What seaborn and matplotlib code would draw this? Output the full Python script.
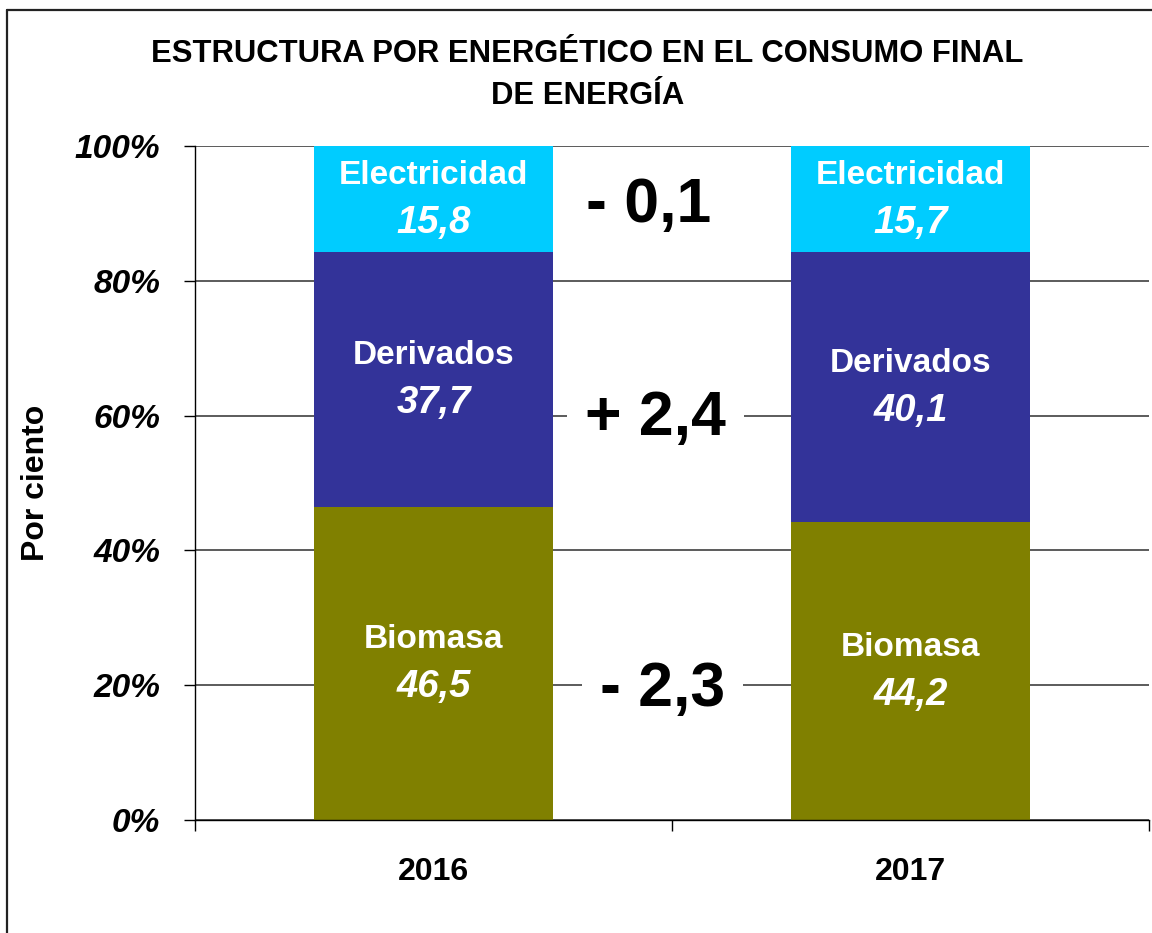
import numpy as np
import pandas as pd
import matplotlib
matplotlib.use('Agg')
import matplotlib.pyplot as plt
import seaborn as sns
from matplotlib.lines import Line2D

years = ['2016', '2017']
sources = ['Biomasa', 'Derivados', 'Electricidad']
biomasa = [46.5, 44.2]
derivados = [37.7, 40.1]
electricidad = [15.8, 15.7]
colors = {'Biomasa': '#808000', 'Derivados': '#333399', 'Electricidad': '#00CCFF'}

# change between years, with where the label sits (x in category units, y in %)
diff_labels = ['- 2,3', '+ 2,4', '- 0,1']
diff_x = [0.48, 0.465, 0.45]
diff_y = [19.3, 59.6, 91.2]

sns.set_theme(style='white')
plt.rcParams['font.family'] = ['Liberation Sans', 'DejaVu Sans']
plt.rcParams['text.color'] = 'black'
plt.rcParams['axes.labelcolor'] = 'black'
plt.rcParams['xtick.color'] = 'black'
plt.rcParams['ytick.color'] = 'black'

def fmt(v):
    return '{:.1f}'.format(v).replace('.', ',')

# long table with bottoms / tops for the stacks
rows = []
for i, y in enumerate(years):
    bottom = 0.0
    for s, vals in zip(sources, [biomasa, derivados, electricidad]):
        v = vals[i]
        rows.append({'year': y, 'source': s, 'value': v, 'bottom': bottom, 'top': bottom + v})
        bottom += v
df = pd.DataFrame(rows)

fig = plt.figure(figsize=(11.52, 9.33), dpi=100)
ax = fig.add_axes([195 / 1152, 1 - 820 / 933, 954 / 1152, 674 / 933])

# stacked bars: draw cumulative tops from tallest to shortest
for s in reversed(sources):
    d = df[df.source == s]
    sns.barplot(data=d, x='year', y='top', order=years, color=colors[s],
                width=0.5, saturation=1, ax=ax, zorder=2, linewidth=0)

# labels inside the segments
for _, r in df.iterrows():
    xi = years.index(r.year)
    mid = r.bottom + r.value / 2
    ax.annotate(r.source, (xi, mid), xytext=(0, 17), textcoords='offset points',
                ha='center', va='center', color='white', fontsize=24, fontweight='bold', zorder=4)
    ax.annotate(fmt(r.value), (xi, mid), xytext=(0, -17), textcoords='offset points',
                ha='center', va='center', color='white', fontsize=27.5, fontweight='bold',
                fontstyle='italic', zorder=4)

for t, x, y in zip(diff_labels, diff_x, diff_y):
    ax.text(x, y, t, ha='center', va='center', fontsize=45, fontweight='bold', color='black',
            zorder=4, bbox=dict(facecolor='white', edgecolor='none', pad=13))

ax.set_xlim(-0.5, 1.5)
ax.set_ylim(0, 100)
ax.set_yticks([0, 20, 40, 60, 80, 100])
ax.set_yticklabels(['{}%'.format(v) for v in [0, 20, 40, 60, 80, 100]],
                   fontsize=24, fontweight='bold', fontstyle='italic')
ax.yaxis.grid(True, color='#404040', linewidth=1.2, zorder=0)
ax.set_axisbelow(True)
ax.tick_params(axis='y', direction='out', length=8, width=1, color='black', pad=17, left=True)

ax.set_xticks([0, 1])
ax.set_xticklabels(years, fontsize=23, fontweight='bold')
ax.set_xticks([-0.5, 0.5, 1.5], minor=True)
ax.tick_params(axis='x', which='major', length=0, pad=27)
ax.tick_params(axis='x', which='minor', direction='out', length=8, width=1, color='black', bottom=True)

ax.set_xlabel('')
ax.set_ylabel('Por ciento', fontsize=23, fontweight='bold')
ax.yaxis.set_label_coords(-0.151, 0.5)

for side in ['top', 'right']:
    ax.spines[side].set_visible(False)
for side in ['left', 'bottom']:
    ax.spines[side].set_color('black')
    ax.spines[side].set_linewidth(1)

fig.text(0.51, 1 - 75 / 933, 'ESTRUCTURA POR ENERGÉTICO EN EL CONSUMO FINAL\nDE ENERGÍA',
         ha='center', va='center', fontsize=22.3, fontweight='bold', linespacing=1.52)

# chart frame (only left and top edges are inside the picture)
fig.add_artist(Line2D([7 / 1152, 7 / 1152], [0, 1 - 10 / 933], transform=fig.transFigure,
                      color='#222222', linewidth=1.6))
fig.add_artist(Line2D([7 / 1152, 1], [1 - 10 / 933, 1 - 10 / 933], transform=fig.transFigure,
                      color='#222222', linewidth=1.6))

fig.savefig('out.png', dpi=100)
